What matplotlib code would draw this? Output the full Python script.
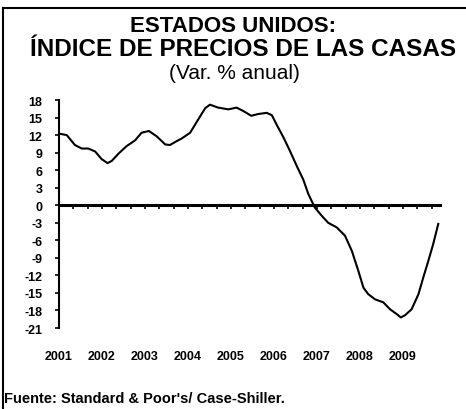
import matplotlib
matplotlib.use("Agg")
import matplotlib.pyplot as plt
from matplotlib.lines import Line2D
from matplotlib.ticker import MultipleLocator

plt.rcParams['font.family'] = ['Liberation Sans', 'DejaVu Sans']

# Data (decimal year, annual % change)
years_t = [2001.00, 2001.18, 2001.37, 2001.53, 2001.68, 2001.84, 2001.99, 2002.13,
           2002.23, 2002.38, 2002.57, 2002.77, 2002.92, 2003.09, 2003.27, 2003.47,
           2003.58, 2003.77, 2003.85, 2004.05, 2004.24, 2004.40, 2004.51, 2004.70,
           2004.94, 2005.13, 2005.29, 2005.47, 2005.63, 2005.83, 2005.95, 2006.06,
           2006.22, 2006.37, 2006.53, 2006.68, 2006.80, 2006.95, 2007.11, 2007.26,
           2007.46, 2007.65, 2007.81, 2007.96, 2008.08, 2008.19, 2008.35, 2008.54,
           2008.70, 2008.85, 2008.95, 2009.05, 2009.20, 2009.36, 2009.47, 2009.59,
           2009.70, 2009.82]
values = [12.25, 12.0, 10.3, 9.7, 9.7, 9.2, 7.9, 7.2,
          7.6, 8.8, 10.1, 11.1, 12.4, 12.7, 11.8, 10.4,
          10.3, 11.1, 11.4, 12.4, 14.7, 16.6, 17.2, 16.7,
          16.4, 16.7, 16.1, 15.3, 15.6, 15.8, 15.4, 13.8,
          11.6, 9.3, 6.7, 4.4, 1.9, -0.4, -1.8, -3.0,
          -3.8, -5.2, -7.8, -11.2, -14.1, -15.2, -16.1, -16.6,
          -17.8, -18.6, -19.2, -18.8, -17.8, -15.2, -12.4, -9.5,
          -6.7, -3.2]
year_labels = ['2001', '2002', '2003', '2004', '2005', '2006', '2007', '2008', '2009']
year_pos = [2001, 2002, 2003, 2004, 2005, 2006, 2007, 2008, 2009]
y_ticks = [18, 15, 12, 9, 6, 3, 0, -3, -6, -9, -12, -15, -18, -21]

W, H = 466, 410
fig = plt.figure(figsize=(W / 100, H / 100), dpi=100)
ax = fig.add_axes([59 / W, 1 - 329 / H, (440 - 59) / W, (329 - 101) / H])

ax.plot(years_t, values, color='black', lw=1.5)
ax.set_xlim(2001, 2001 + (440 - 59) / 43)
ax.set_ylim(-21, 18)

for s in ['top', 'right']:
    ax.spines[s].set_visible(False)
ax.spines['left'].set_linewidth(1.5)
ax.spines['bottom'].set_position(('data', 0))
ax.spines['bottom'].set_linewidth(2.2)

ax.set_yticks(y_ticks)
ax.set_yticklabels([str(v) for v in y_ticks], fontsize=9, fontweight='bold')
ax.tick_params(axis='y', direction='out', length=3, width=1.2, pad=9)

ax.set_xticks([])
ax.xaxis.set_minor_locator(MultipleLocator(1 / 3))
ax.tick_params(axis='x', which='minor', direction='out', length=3, width=1.2)
ax.tick_params(axis='x', which='major', length=0, labelbottom=False)

sec = ax.secondary_xaxis(0)
sec.spines['bottom'].set_visible(False)
sec.set_xticks(year_pos)
sec.set_xticklabels(year_labels, fontsize=9, fontweight='bold')
sec.tick_params(axis='x', length=0, pad=16)

fig.text(233 / W, 1 - 26 / H, 'ESTADOS UNIDOS:', ha='center', va='center',
         fontsize=16, fontweight='bold')
fig.text(243 / W, 1 - 50 / H, 'ÍNDICE DE PRECIOS DE LAS CASAS', ha='center', va='center',
         fontsize=17.5, fontweight='bold')
fig.text(234 / W, 1 - 74 / H, '(Var. % anual)', ha='center', va='center', fontsize=15)
fig.text(4 / W, 1 - 399 / H, "Fuente: Standard & Poor's/ Case-Shiller.", ha='left', va='center',
         fontsize=10.5, fontweight='bold')

fig.add_artist(Line2D([2.5 / W, 2.5 / W], [0, 1 - 9 / H], color='black', lw=1.5,
                      transform=fig.transFigure))
fig.add_artist(Line2D([2.5 / W, 1], [1 - 9 / H, 1 - 9 / H], color='black', lw=1.5,
                      transform=fig.transFigure))

fig.savefig('out.png', dpi=100)
